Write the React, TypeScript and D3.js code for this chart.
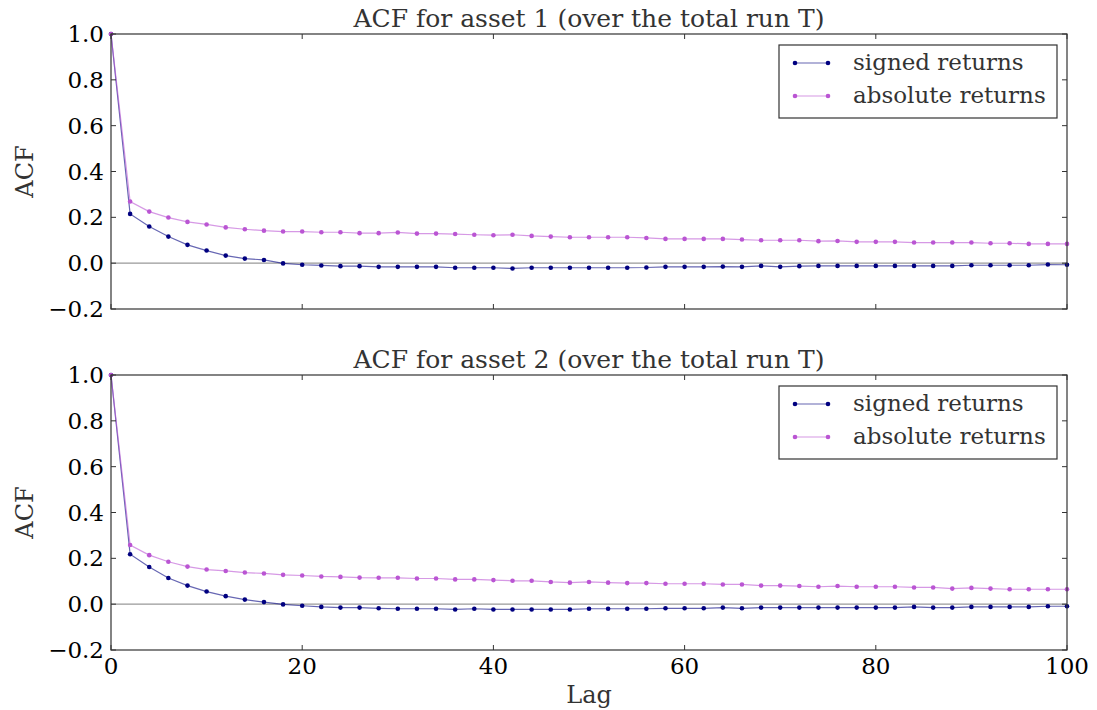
import * as d3 from 'd3'

const lags = d3.range(0, 101, 2)

const signed1 = [
  1.0, 0.215, 0.16, 0.116, 0.08, 0.055, 0.033, 0.02, 0.014, -0.001,
  -0.007, -0.01, -0.013, -0.013, -0.016, -0.016, -0.016, -0.016, -0.02, -0.02,
  -0.02, -0.023, -0.02, -0.02, -0.02, -0.02, -0.02, -0.02, -0.019, -0.016,
  -0.016, -0.016, -0.015, -0.016, -0.012, -0.016, -0.013, -0.012, -0.012, -0.012,
  -0.012, -0.012, -0.012, -0.012, -0.012, -0.009, -0.009, -0.009, -0.009, -0.006,
  -0.007,
]
const absolute1 = [
  1.0, 0.269, 0.225, 0.199, 0.18, 0.169, 0.156, 0.148, 0.142, 0.138,
  0.138, 0.135, 0.135, 0.131, 0.131, 0.134, 0.129, 0.129, 0.127, 0.124,
  0.122, 0.124, 0.119, 0.116, 0.113, 0.113, 0.113, 0.113, 0.11, 0.106,
  0.106, 0.106, 0.106, 0.103, 0.1, 0.1, 0.1, 0.096, 0.097, 0.093,
  0.093, 0.093, 0.09, 0.09, 0.09, 0.09, 0.087, 0.087, 0.084, 0.084,
  0.084,
]
const signed2 = [
  1.0, 0.218, 0.162, 0.114, 0.081, 0.055, 0.035, 0.02, 0.009, -0.001,
  -0.007, -0.012, -0.015, -0.015, -0.018, -0.02, -0.02, -0.02, -0.023, -0.02,
  -0.023, -0.023, -0.023, -0.023, -0.023, -0.02, -0.02, -0.02, -0.02, -0.018,
  -0.018, -0.018, -0.015, -0.018, -0.015, -0.015, -0.015, -0.015, -0.015, -0.015,
  -0.015, -0.015, -0.012, -0.015, -0.015, -0.012, -0.012, -0.012, -0.012, -0.009,
  -0.009,
]
const absolute2 = [
  1.0, 0.258, 0.214, 0.185, 0.164, 0.151, 0.145, 0.138, 0.134, 0.128,
  0.125, 0.121, 0.119, 0.116, 0.115, 0.115, 0.112, 0.112, 0.108, 0.108,
  0.105, 0.102, 0.102, 0.097, 0.094, 0.097, 0.094, 0.092, 0.092, 0.089,
  0.089, 0.089, 0.086, 0.086, 0.081, 0.081, 0.079, 0.076, 0.079, 0.076,
  0.076, 0.076, 0.073, 0.073, 0.068, 0.071, 0.068, 0.065, 0.065, 0.065,
  0.065,
]

const xTicks = [0, 20, 40, 60, 80, 100]
const yTicks = [-0.2, 0.0, 0.2, 0.4, 0.6, 0.8, 1.0]
const seriesNames = ['signed returns', 'absolute returns']

const width = 1097
const height = 710
const marginLeft = 111
const marginRight = 30
const font = 'DejaVu Serif, serif'
const signedColor = '#000080'
const absColor = '#ba55d3'
const spine = '#333333'

interface PanelProps {
  top: number
  panelHeight: number
  title: string
  signed: number[]
  absolute: number[]
  showXLabels: boolean
}

function Panel({ top, panelHeight, title, signed, absolute, showXLabels }: PanelProps) {
  const x = d3.scaleLinear([0, 100], [marginLeft, width - marginRight])
  const y = d3.scaleLinear([-0.2, 1.0], [top + panelHeight, top])
  const line = d3.line<number>((d, i) => x(lags[i]), (d) => y(d))
  const left = x(0)
  const right = x(100)
  const bottom = y(-0.2)
  const tick = 5
  const series = [
    { name: seriesNames[0], values: signed, color: signedColor },
    { name: seriesNames[1], values: absolute, color: absColor },
  ]
  const legendX = 779
  const legendY = top + 11

  return (
    <g>
      <text x={(left + right) / 2} y={top - 7} textAnchor="middle" fontSize={25} fill="#333" fontFamily={font}>
        {title}
      </text>
      <line x1={left} x2={right} y1={y(0)} y2={y(0)} stroke="#999" strokeWidth={1.2} />
      {series.map((s) => (
        <g key={s.name}>
          <path d={line(s.values) || undefined} fill="none" stroke={s.color} strokeOpacity={0.6} strokeWidth={1.2} />
          {s.values.map((v, i) => (
            <circle key={i} cx={x(lags[i])} cy={y(v)} r={2.3} fill={s.color} />
          ))}
        </g>
      ))}
      <rect x={left} y={top} width={right - left} height={bottom - top} fill="none" stroke={spine} strokeWidth={1.2} />
      {xTicks.map((t) => (
        <g key={t}>
          <line x1={x(t)} x2={x(t)} y1={bottom} y2={bottom - tick} stroke={spine} />
          <line x1={x(t)} x2={x(t)} y1={top} y2={top + tick} stroke={spine} />
          {showXLabels && (
            <text x={x(t)} y={bottom + 24} textAnchor="middle" fontSize={23} fontFamily={font} fill="#000">
              {t}
            </text>
          )}
        </g>
      ))}
      {yTicks.map((t) => (
        <g key={t}>
          <line x1={left} x2={left + tick} y1={y(t)} y2={y(t)} stroke={spine} />
          <line x1={right} x2={right - tick} y1={y(t)} y2={y(t)} stroke={spine} />
          <text x={left - 7} y={y(t) + 8} textAnchor="end" fontSize={23} fontFamily={font} fill="#000">
            {t < 0 ? '\u2212' + Math.abs(t).toFixed(1) : t.toFixed(1)}
          </text>
        </g>
      ))}
      <text
        transform={`translate(33,${(top + bottom) / 2}) rotate(-90)`}
        textAnchor="middle"
        fontSize={24}
        fill="#333"
        fontFamily={font}
      >
        ACF
      </text>
      <rect x={legendX} y={legendY} width={278} height={73} fill="#fff" stroke={spine} strokeWidth={1.2} />
      {series.map((s, i) => {
        const ly = legendY + 18 + i * 33
        return (
          <g key={s.name}>
            <line x1={795} x2={828} y1={ly} y2={ly} stroke={s.color} strokeOpacity={0.6} strokeWidth={1.2} />
            <circle cx={795} cy={ly} r={2.3} fill={s.color} />
            <circle cx={828} cy={ly} r={2.3} fill={s.color} />
            <text x={853} y={ly + 7} fontSize={23} fill="#333" fontFamily={font}>
              {s.name}
            </text>
          </g>
        )
      })}
    </g>
  )
}

export default function App() {
  return (
    <svg
      width={width}
      height={height}
      viewBox={`0 0 ${width} ${height}`}
      style={{ position: 'absolute', left: 0, top: 0, background: '#fff' }}
    >
      <Panel
        top={34}
        panelHeight={275}
        title="ACF for asset 1 (over the total run T)"
        signed={signed1}
        absolute={absolute1}
        showXLabels={false}
      />
      <Panel
        top={375}
        panelHeight={275}
        title="ACF for asset 2 (over the total run T)"
        signed={signed2}
        absolute={absolute2}
        showXLabels={true}
      />
      <text x={589} y={703} textAnchor="middle" fontSize={24} fill="#333" fontFamily={font}>
        Lag
      </text>
    </svg>
  )
}
